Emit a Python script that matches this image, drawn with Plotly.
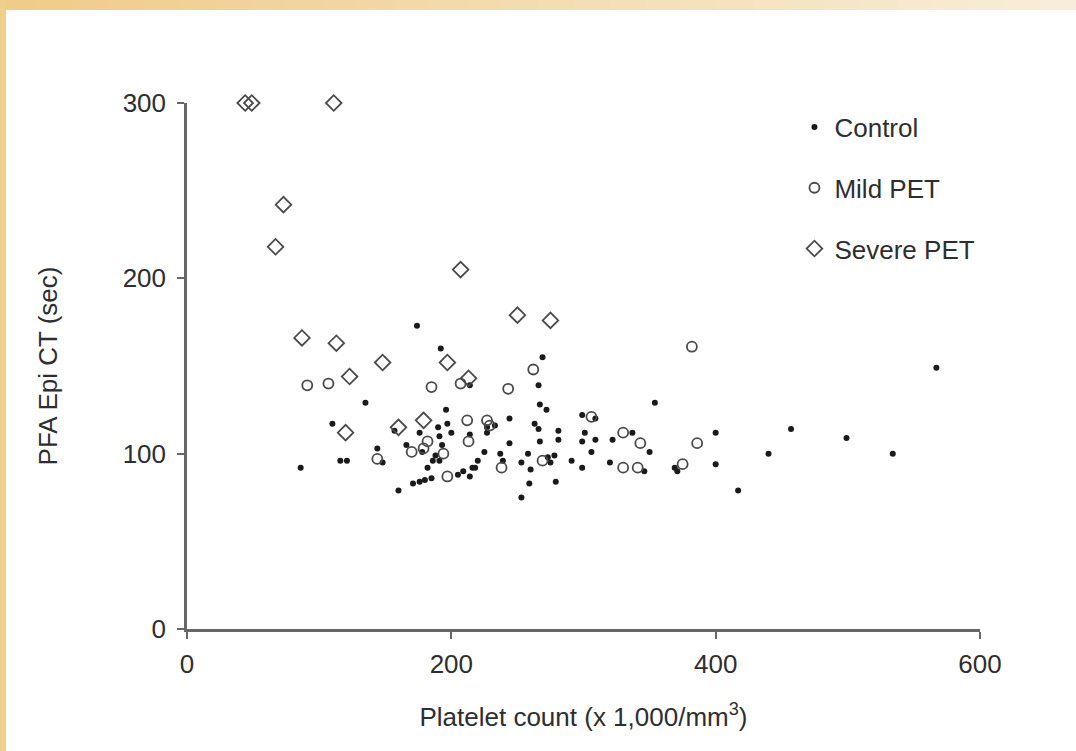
import plotly.graph_objects as go

# ---------------- data ----------------
control_x = [174, 192, 269, 266, 567, 354, 400, 457, 499, 534, 440, 400, 417, 337, 322, 350,
             320, 346, 369, 371, 299, 309, 301, 299, 309, 306, 291, 299, 267, 272, 244, 233,
             227, 263, 266, 281, 281, 267, 244, 220, 225, 237, 239, 253, 258, 260, 259, 253,
             273, 278, 275, 279, 216, 214, 196, 157, 176, 190, 197, 200, 191, 214, 166, 178,
             193, 188, 186, 191, 182, 171, 176, 180, 185, 160, 205, 209, 218, 144, 148, 135,
             110, 116, 121, 86, 214, 227]
control_y = [173, 160, 155, 139, 149, 129, 112, 114, 109, 100, 100, 94, 79, 112, 108, 101,
             95, 90, 92, 90, 122, 120, 112, 107, 108, 101, 96, 92, 128, 125, 120, 116,
             112, 117, 114, 113, 108, 107, 106, 96, 101, 100, 96, 95, 100, 91, 83, 75,
             98, 99, 95, 84, 92, 87, 125, 113, 112, 115, 117, 112, 110, 111, 105, 101,
             105, 99, 96, 96, 92, 83, 84, 85, 86, 79, 88, 90, 92, 103, 95, 129,
             117, 96, 96, 92, 139, 115]

mild_x = [91, 107, 144, 185, 207, 243, 262, 382, 386, 330, 343, 330, 341, 375, 306, 212,
          213, 227, 229, 170, 179, 182, 194, 197, 238, 269]
mild_y = [139, 140, 97, 138, 140, 137, 148, 161, 106, 112, 106, 92, 92, 94, 121, 119,
          107, 119, 116, 101, 103, 107, 100, 87, 92, 96]

severe_x = [44, 49, 111, 73, 67, 87, 113, 123, 148, 120, 207, 250, 275, 197, 213, 179, 160]
severe_y = [300, 300, 300, 242, 218, 166, 163, 144, 152, 112, 205, 179, 176, 152, 143, 119, 115]

x_ticks = [0, 200, 400, 600]
y_ticks = [0, 100, 200, 300]

# ---------------- figure ----------------
W, H = 1076, 751
ML, MR, MT, MB = 187, 96, 103, 122
PW, PH = W - ML - MR, H - MT - MB

fig = go.Figure()
fig.add_trace(go.Scatter(x=control_x, y=control_y, mode="markers", name="Control",
                         legendgroup="a",
                         marker=dict(symbol="circle", size=6, color="#1a1a1a"),
                         cliponaxis=False))
fig.add_trace(go.Scatter(x=mild_x, y=mild_y, mode="markers", name="Mild PET",
                         legendgroup="b",
                         marker=dict(symbol="circle-open", size=10, color="#4a4a4a",
                                     line=dict(width=1.8)),
                         cliponaxis=False))
fig.add_trace(go.Scatter(x=severe_x, y=severe_y, mode="markers", name="Severe PET",
                         legendgroup="c",
                         marker=dict(symbol="diamond-open", size=12, color="#4a4a4a",
                                     line=dict(width=1.8)),
                         cliponaxis=False))

# decorative gold border (top gradient bar + left bar)
def px_to_paper_x(px):
    return (px - ML) / PW

def py_to_paper_y(py):
    return (H - MB - py) / PH

shapes = []
n = 30
c0 = (239, 204, 136)
c1 = (248, 237, 217)
for i in range(n):
    t = i / (n - 1)
    col = tuple(int(round(c0[k] + (c1[k] - c0[k]) * t)) for k in range(3))
    shapes.append(dict(type="rect", xref="paper", yref="paper",
                       x0=px_to_paper_x(W * i / n), x1=px_to_paper_x(W * (i + 1) / n + 1),
                       y0=py_to_paper_y(10), y1=py_to_paper_y(0),
                       fillcolor="rgb(%d,%d,%d)" % col, line=dict(width=0), layer="below"))
shapes.append(dict(type="rect", xref="paper", yref="paper",
                   x0=px_to_paper_x(0), x1=px_to_paper_x(6),
                   y0=py_to_paper_y(H), y1=py_to_paper_y(0),
                   fillcolor="rgb(240,206,140)", line=dict(width=0), layer="below"))

axis_font = dict(family="Arial, Liberation Sans, sans-serif", size=26, color="#2e2e2e")

fig.update_layout(
    width=W, height=H,
    margin=dict(l=ML, r=MR, t=MT, b=MB, autoexpand=False),
    paper_bgcolor="white", plot_bgcolor="white",
    font=axis_font,
    shapes=shapes,
    showlegend=True,
    legend=dict(x=0.766, y=0.999, xanchor="left", yanchor="top",
                font=dict(family="Arial, Liberation Sans, sans-serif", size=26, color="#2e2e2e"),
                tracegroupgap=24, traceorder="grouped", bgcolor="rgba(0,0,0,0)",
                itemsizing="trace"),
    xaxis=dict(range=[0, 600], tickvals=x_ticks, ticktext=[str(v) for v in x_ticks],
               showgrid=False, zeroline=False, showline=True, linecolor="#666666",
               linewidth=3, ticks="outside", ticklen=7, tickwidth=2, tickcolor="#666666",
               tickfont=axis_font, ticklabelstandoff=3,
               title=dict(text="Platelet count (x 1,000/mm<sup>3</sup>)", font=axis_font,
                          standoff=30)),
    yaxis=dict(range=[0, 300], tickvals=y_ticks, ticktext=[str(v) for v in y_ticks],
               showgrid=False, zeroline=False, showline=True, linecolor="#666666",
               linewidth=2.5, ticks="outside", ticklen=7, tickwidth=2, tickcolor="#666666",
               tickfont=axis_font, ticklabelstandoff=6,
               title=dict(text="PFA Epi CT (sec)", font=axis_font, standoff=58)),
)

fig.write_html("out.html", config={"displayModeBar": False},
               post_script="document.body.style.margin='0';document.body.style.padding='0';")
